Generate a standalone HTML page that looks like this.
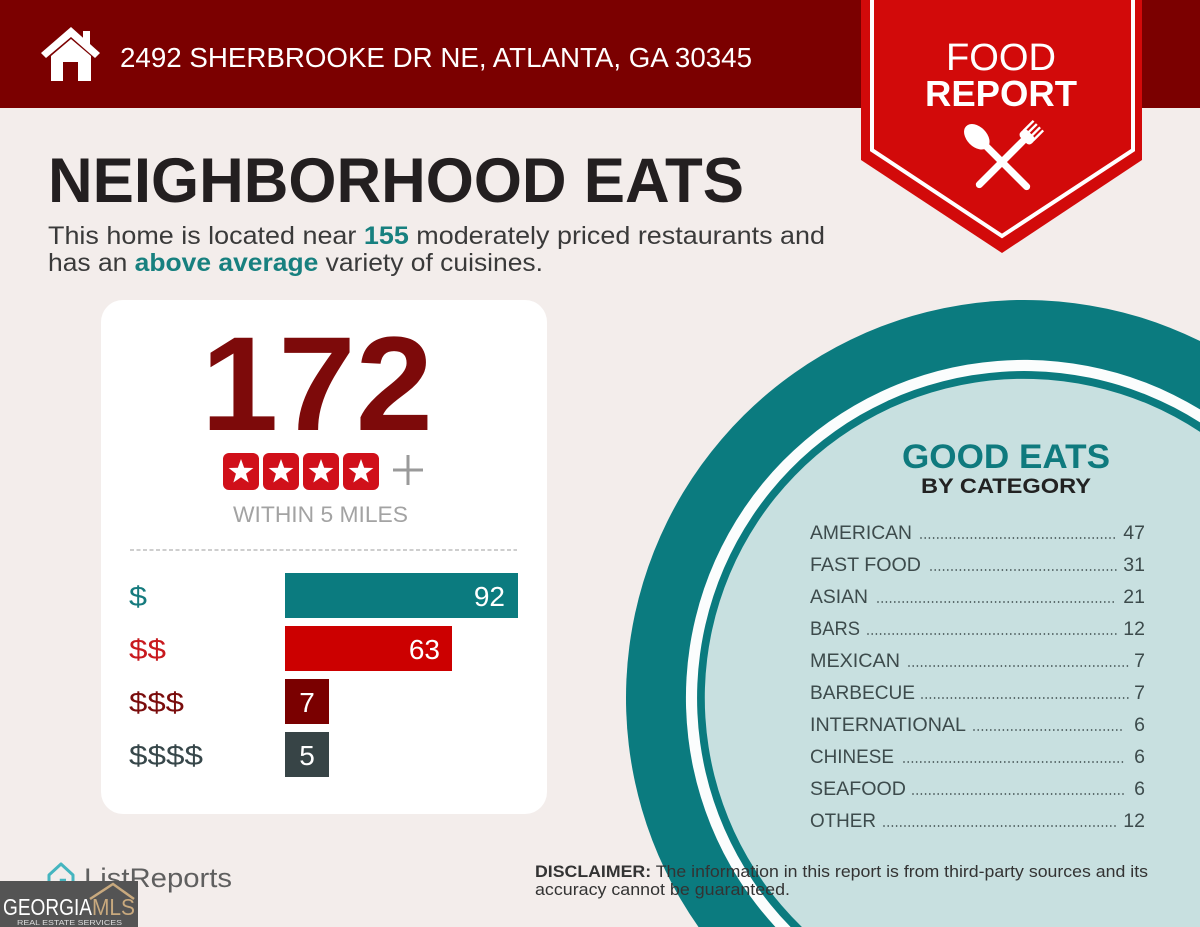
<!DOCTYPE html>
<html><head><meta charset="utf-8"><style>
html,body{margin:0;padding:0;background:#f3edeb;width:1200px;height:927px;overflow:hidden;}
svg{display:block;}
text{font-family:"Liberation Sans",sans-serif;}
</style></head><body>
<svg width="1200" height="927" viewBox="0 0 1200 927" xmlns="http://www.w3.org/2000/svg">
<defs>
<path id="star" d="M0,-13 L3.12,-4.29 L12.36,-4.02 L5.04,1.64 L7.64,10.52 L0,5.3 L-7.64,10.52 L-5.04,1.64 L-12.36,-4.02 L-3.12,-4.29 Z" fill="#fff"/>
</defs>
<rect width="1200" height="927" fill="#f3edeb"/>

<!-- plate circle (clipped to frame) -->
<path d="M1200,341 A398,398 0 0 0 698.5,927 L1200,927 Z" fill="#0b7b7f"/>
<path d="M1200,409.4 A338,338 0 0 0 775.4,927 L1200,927 Z" fill="#fbfdfd"/>
<path d="M1200,422.4 A327,327 0 0 0 790.6,927 L1200,927 Z" fill="#0b7b7f"/>
<path d="M1200,431.9 A319,319 0 0 0 801.9,927 L1200,927 Z" fill="#c8e0e0"/>

<!-- header -->
<rect x="0" y="0" width="1200" height="108" fill="#7b0000"/>
<g fill="#fff">
<path d="M41 53 L71 27 L100 53 L95 58 L71 37 L46 58 Z"/>
<rect x="83" y="31" width="7" height="14"/>
<path d="M51 56 L71 39 L91 56 L91 81 L78 81 L78 62 L63 62 L63 81 L51 81 Z"/>
</g>
<text x="120" y="67" font-size="28" fill="#fff" textLength="632" lengthAdjust="spacingAndGlyphs">2492 SHERBROOKE DR NE, ATLANTA, GA 30345</text>

<!-- banner -->
<polygon points="861,0 1142,0 1142,160 1002,253 861,160" fill="#d20a0a"/>
<polyline points="872,0 872,150 1002,236 1133,150 1133,0" fill="none" stroke="#fff" stroke-width="4"/>
<text x="1001" y="70" font-size="38" fill="#fff" text-anchor="middle" textLength="110" lengthAdjust="spacingAndGlyphs">FOOD</text>
<text x="1001" y="106" font-size="36" font-weight="bold" fill="#fff" text-anchor="middle" textLength="152" lengthAdjust="spacingAndGlyphs">REPORT</text>
<g fill="#fff">
  <g transform="translate(1027,187) rotate(-45)">
    <rect x="-3.5" y="-60" width="7" height="63" rx="3.5"/>
    <ellipse cx="0" cy="-71" rx="10" ry="15"/>
  </g>
  <g transform="translate(1020,144) rotate(45)">
    <rect x="-3.5" y="-8" width="7" height="69" rx="3.5"/>
    <rect x="-8" y="-15" width="16" height="10" rx="4"/>
    <rect x="-8" y="-26" width="2.4" height="14"/>
    <rect x="-3.4" y="-26" width="2.4" height="14"/>
    <rect x="1.2" y="-26" width="2.4" height="14"/>
    <rect x="5.6" y="-26" width="2.4" height="14"/>
  </g>
</g>

<!-- title -->
<text x="48" y="202" font-size="63" font-weight="bold" fill="#231f20" textLength="696" lengthAdjust="spacingAndGlyphs">NEIGHBORHOOD EATS</text>
<text x="48" y="244" font-size="25" fill="#3a3a3a" textLength="777" lengthAdjust="spacingAndGlyphs">This home is located near <tspan font-weight="bold" fill="#17807f">155</tspan> moderately priced restaurants and</text>
<text x="48" y="271" font-size="25" fill="#3a3a3a" textLength="495" lengthAdjust="spacingAndGlyphs">has an <tspan font-weight="bold" fill="#17807f">above average</tspan> variety of cuisines.</text>

<!-- card -->
<rect x="101" y="300" width="446" height="514" rx="22" fill="#fff"/>
<text x="201" y="430" font-size="134" font-weight="bold" fill="#7d0a0a" textLength="232" lengthAdjust="spacingAndGlyphs">172</text>
<g fill="#d0101a">
<rect x="223" y="453" width="36" height="37" rx="6"/>
<rect x="263" y="453" width="36" height="37" rx="6"/>
<rect x="303" y="453" width="36" height="37" rx="6"/>
<rect x="343" y="453" width="36" height="37" rx="6"/>
</g>
<use href="#star" x="241" y="472"/>
<use href="#star" x="281" y="472"/>
<use href="#star" x="321" y="472"/>
<use href="#star" x="361" y="472"/>
<g stroke="#9a9a9a" stroke-width="3">
<line x1="393" y1="470" x2="423" y2="470"/>
<line x1="408" y1="455" x2="408" y2="485"/>
</g>
<text x="233" y="522" font-size="22" fill="#a3a3a3" textLength="175" lengthAdjust="spacingAndGlyphs">WITHIN 5 MILES</text>
<line x1="130" y1="550" x2="517" y2="550" stroke="#b0b0b0" stroke-width="1.2" stroke-dasharray="4 2.5"/>

<!-- bars -->
<rect x="285" y="573" width="233" height="45" fill="#0b7b7f"/>
<rect x="285" y="626" width="167" height="45" fill="#cc0000"/>
<rect x="285" y="679" width="44" height="45" fill="#7a0000"/>
<rect x="285" y="732" width="44" height="45" fill="#374446"/>
<g font-size="28" fill="#fff">
<text x="505" y="606" text-anchor="end">92</text>
<text x="440" y="659" text-anchor="end">63</text>
<text x="307" y="712" text-anchor="middle">7</text>
<text x="307" y="765" text-anchor="middle">5</text>
</g>
<g font-size="28">
<text x="129" y="606" fill="#167b7e" textLength="18" lengthAdjust="spacingAndGlyphs">$</text>
<text x="129" y="659" fill="#c8191e" textLength="37" lengthAdjust="spacingAndGlyphs">$$</text>
<text x="129" y="712" fill="#7a0c0c" textLength="55" lengthAdjust="spacingAndGlyphs">$$$</text>
<text x="129" y="765" fill="#37474a" textLength="74" lengthAdjust="spacingAndGlyphs">$$$$</text>
</g>

<!-- good eats -->
<text x="1006" y="468" font-size="34" font-weight="bold" fill="#0f7a7e" text-anchor="middle" textLength="208" lengthAdjust="spacingAndGlyphs">GOOD EATS</text>
<text x="1006" y="493" font-size="21" font-weight="bold" fill="#222" text-anchor="middle" textLength="170" lengthAdjust="spacingAndGlyphs">BY CATEGORY</text>

<g font-size="19.5" fill="#3d4b4c">
<text x="810" y="539" textLength="102" lengthAdjust="spacingAndGlyphs">AMERICAN</text>
<text x="810" y="571" textLength="111" lengthAdjust="spacingAndGlyphs">FAST FOOD</text>
<text x="810" y="603" textLength="58" lengthAdjust="spacingAndGlyphs">ASIAN</text>
<text x="810" y="635" textLength="50" lengthAdjust="spacingAndGlyphs">BARS</text>
<text x="810" y="667" textLength="90" lengthAdjust="spacingAndGlyphs">MEXICAN</text>
<text x="810" y="699" textLength="105" lengthAdjust="spacingAndGlyphs">BARBECUE</text>
<text x="810" y="731" textLength="156" lengthAdjust="spacingAndGlyphs">INTERNATIONAL</text>
<text x="810" y="763" textLength="84" lengthAdjust="spacingAndGlyphs">CHINESE</text>
<text x="810" y="795" textLength="96" lengthAdjust="spacingAndGlyphs">SEAFOOD</text>
<text x="810" y="827" textLength="66" lengthAdjust="spacingAndGlyphs">OTHER</text>
<g text-anchor="end">
<text x="1145" y="539">47</text>
<text x="1145" y="571">31</text>
<text x="1145" y="603">21</text>
<text x="1145" y="635">12</text>
<text x="1145" y="667">7</text>
<text x="1145" y="699">7</text>
<text x="1145" y="731">6</text>
<text x="1145" y="763">6</text>
<text x="1145" y="795">6</text>
<text x="1145" y="827">12</text>
</g>
</g>
<g stroke="#3d4b4c" stroke-width="1.7" stroke-linecap="round" stroke-dasharray="0 4.2">
<line x1="921" y1="538" x2="1117" y2="538"/>
<line x1="931" y1="570" x2="1117" y2="570"/>
<line x1="878" y1="602" x2="1117" y2="602"/>
<line x1="868" y1="634" x2="1119" y2="634"/>
<line x1="909" y1="666" x2="1129" y2="666"/>
<line x1="922" y1="698" x2="1129" y2="698"/>
<line x1="974" y1="730" x2="1125" y2="730"/>
<line x1="904" y1="762" x2="1125" y2="762"/>
<line x1="913" y1="794" x2="1125" y2="794"/>
<line x1="884" y1="826" x2="1119" y2="826"/>
</g>

<!-- disclaimer -->
<text x="535" y="877" font-size="16.5" fill="#333" textLength="613" lengthAdjust="spacingAndGlyphs"><tspan font-weight="bold">DISCLAIMER:</tspan> The information in this report is from third-party sources and its</text>
<text x="535" y="895" font-size="16.5" fill="#333" textLength="255" lengthAdjust="spacingAndGlyphs">accuracy cannot be guaranteed.</text>

<!-- ListReports logo -->
<path d="M49 875 L61 864 L73 875 L73 886 Q73 890 69 890 L53 890 Q49 890 49 886 Z" fill="none" stroke="#45b5bf" stroke-width="3" stroke-linejoin="round"/>
<path d="M66 880 L61 880 L61 885" fill="none" stroke="#45b5bf" stroke-width="2.5"/>
<text x="84" y="887" font-size="27" fill="#5f5f5f" textLength="148" lengthAdjust="spacingAndGlyphs">ListReports</text>

<!-- GeorgiaMLS -->
<rect x="0" y="881" width="138" height="46" fill="#545454"/>
<polyline points="90,899 113,884 134,899" fill="none" stroke="#c8a97e" stroke-width="2.5"/>
<text x="3" y="915" font-size="23" fill="#fff" textLength="89" lengthAdjust="spacingAndGlyphs">GEORGIA</text>
<text x="92" y="915" font-size="23" fill="#c8a97e" textLength="43" lengthAdjust="spacingAndGlyphs">MLS</text>
<text x="17" y="925" font-size="7" fill="#ddd" textLength="105" lengthAdjust="spacingAndGlyphs">REAL ESTATE SERVICES</text>
</svg>
</body></html>
